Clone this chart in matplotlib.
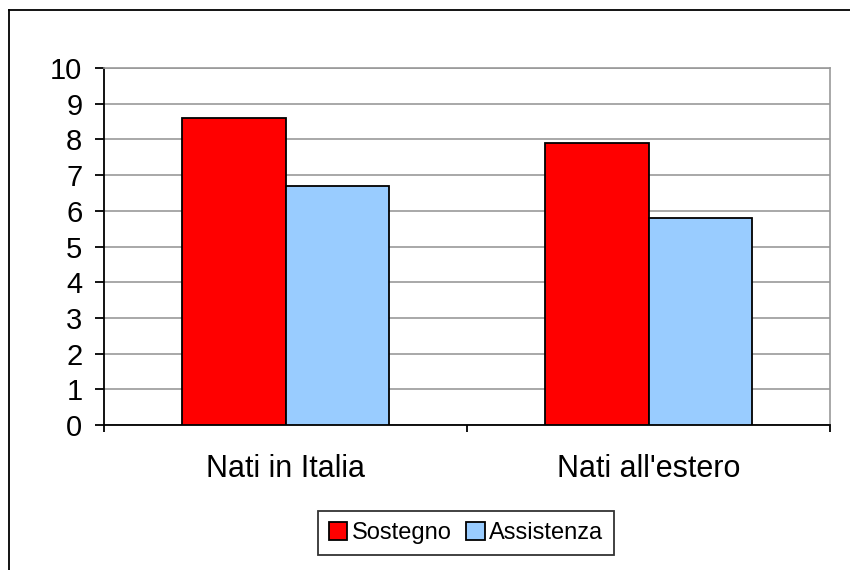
import matplotlib.pyplot as plt
import numpy as np
from matplotlib.lines import Line2D

categories = ['Nati in Italia', "Nati all'estero"]
series_names = ['Sostegno', 'Assistenza']
sostegno = [8.6, 7.9]
assistenza = [6.7, 5.8]
colors = ['#FF0000', '#99CCFF']

plt.rcParams['font.family'] = ['Liberation Sans', 'DejaVu Sans']

fig = plt.figure(figsize=(8.5, 5.7), dpi=100)
ax = fig.add_axes([104 / 850, 1 - 425 / 570, 726 / 850, 357 / 570])

# Excel-like clustered columns: gap width 150%
x = np.arange(len(categories))
w = 1 / 3.5
for i, (vals, name) in enumerate(zip([sostegno, assistenza], series_names)):
    ax.bar(x + (i - 0.5) * w, vals, width=w, color=colors[i], edgecolor='black',
           linewidth=1.3, label=name, zorder=3)

ax.set_xlim(-0.5, len(categories) - 0.5)
ax.set_ylim(0, 10)
ax.set_yticks(range(0, 11))
ax.yaxis.grid(True, color='#999999', linewidth=1.2, zorder=0)
ax.set_axisbelow(True)

ax.set_xticks(x)
ax.set_xticklabels(categories, fontsize=22)
ax.set_xticks(np.arange(-0.5, len(categories)), minor=True)
ax.tick_params(axis='x', which='major', length=0, pad=21)
ax.tick_params(axis='x', which='minor', length=5, width=1.3, direction='out')
ax.tick_params(axis='y', labelsize=21, length=6.5, width=1.3, direction='out', pad=9)

for s in ['top', 'right']:
    ax.spines[s].set_color('#999999')
    ax.spines[s].set_linewidth(1.2)
for s in ['left', 'bottom']:
    ax.spines[s].set_linewidth(1.3)

leg = fig.legend(loc='center', bbox_to_anchor=(466 / 850, 1 - 533 / 570), ncol=2,
                 fontsize=17, frameon=True, fancybox=False, edgecolor='black',
                 handlelength=0.78, handleheight=0.78, handletextpad=0.17,
                 columnspacing=0.64, borderpad=0.45, borderaxespad=0)
leg.get_frame().set_linewidth(1.3)

# chart area frame
fig.add_artist(Line2D([9 / 850, 9 / 850], [0, 1 - 10 / 570], transform=fig.transFigure,
                      color='black', linewidth=1.3))
fig.add_artist(Line2D([9 / 850, 1], [1 - 10 / 570, 1 - 10 / 570], transform=fig.transFigure,
                      color='black', linewidth=1.3))

fig.savefig('out.png', dpi=100)
